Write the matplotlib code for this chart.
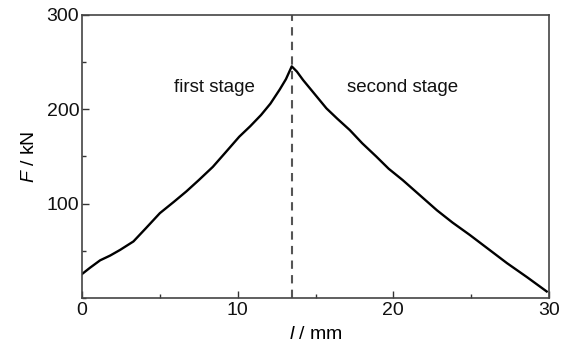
import matplotlib.pyplot as plt
from matplotlib.ticker import MultipleLocator

plt.rcParams['font.family'] = ['Liberation Sans', 'DejaVu Sans']
plt.rcParams['mathtext.fontset'] = 'custom'
plt.rcParams['mathtext.it'] = 'Liberation Sans:italic'
plt.rcParams['mathtext.rm'] = 'Liberation Sans'

# displacement (mm) and load (kN)
disp = [0.0, 0.5, 1.16, 1.8, 2.44, 3.3, 4.1, 5.0, 5.9, 6.7, 7.5, 8.4, 9.2,
        10.1, 10.8, 11.5, 12.1, 12.7, 13.1, 13.47,
        13.8, 14.2, 15.0, 15.7, 16.4, 17.2, 18.0, 18.9, 19.7, 20.6, 21.7,
        22.8, 23.8, 24.9, 26.1, 27.3, 28.6, 29.85]
load = [25.5, 32, 40, 45, 51, 60, 74, 90, 102, 113, 125, 139, 154,
        171, 182, 194, 206, 221, 232, 245.5,
        240, 231, 215, 201, 190, 178, 164, 150, 137, 125, 109,
        93, 80, 67, 52, 37, 22, 7]

peak_disp = 13.5
stage_labels = ['first stage', 'second stage']
stage_pos = [(8.5, 223), (20.6, 223)]

fig = plt.figure(figsize=(5.66, 3.47), dpi=100)
ax = fig.add_axes([0.145, 0.141, 0.825, 0.816])

ax.plot(disp, load, color='black', lw=1.7)
ax.axvline(peak_disp, color='#555555', lw=1.5, ls=(0, (4, 3)))

for txt, (x, y) in zip(stage_labels, stage_pos):
    ax.text(x, y, txt, ha='center', va='center', fontsize=13.5, color='#111111')

ax.set_xlim(0, 30)
ax.set_ylim(0, 300)
ax.xaxis.set_major_locator(MultipleLocator(10))
ax.xaxis.set_minor_locator(MultipleLocator(5))
ax.yaxis.set_major_locator(MultipleLocator(100))
ax.yaxis.set_minor_locator(MultipleLocator(50))
ax.set_yticks([100, 200, 300])
ax.set_yticklabels(['100', '200', '300'])

ax.tick_params(which='both', direction='in', colors='#333333', labelcolor='#111111',
               labelsize=14)
ax.tick_params(which='major', length=5, width=1)
ax.tick_params(which='minor', length=3, width=1)
ax.tick_params(axis='x', pad=3)
ax.tick_params(axis='y', pad=2)
for s in ax.spines.values():
    s.set_color('#444444')
    s.set_linewidth(1.2)

ax.set_xlabel(r'$\mathit{l}$ / mm', fontsize=14, labelpad=5)
ax.set_ylabel(r'$\mathit{F}$ / kN', fontsize=14, labelpad=6)

fig.savefig('out.png', dpi=100)
